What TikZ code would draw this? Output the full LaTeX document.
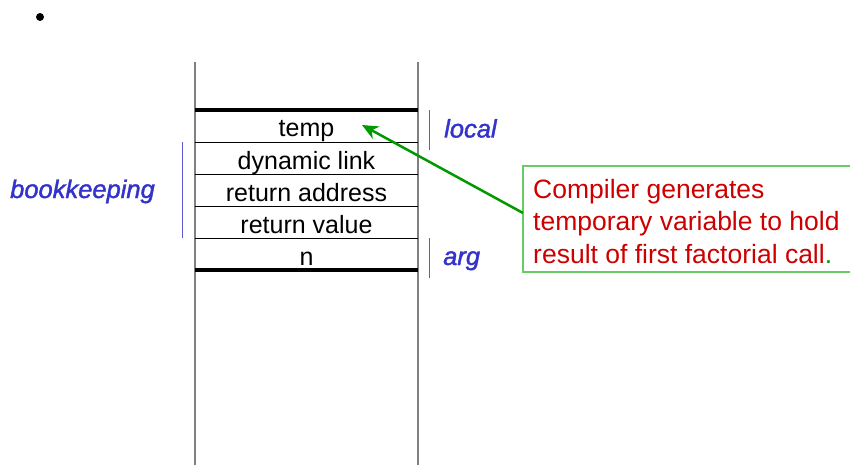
\documentclass[tikz,border=0pt]{standalone}
\usepackage{fontspec}
\setmainfont{Liberation Sans}
\newfontfamily\labelfont{Liberation Sans}[ItalicFeatures={FakeBold=1.6}]
\usetikzlibrary{arrows.meta}
\definecolor{labelblue}{RGB}{51,51,204}
\definecolor{notered}{RGB}{204,0,0}
\definecolor{arrowgreen}{RGB}{0,153,0}
\definecolor{boxgreen}{RGB}{102,204,102}
\begin{document}
\begin{tikzpicture}[x=1pt,y=-1pt,
  cell/.style={anchor=base,font=\fontsize{25}{30}\selectfont,inner sep=0pt},
  side/.style={anchor=base west,font=\labelfont\fontsize{25.5}{30}\selectfont\itshape,text=labelblue,inner sep=0pt},
  bracket/.style={draw=labelblue!80,line width=0.9pt},
  wall/.style={draw=black!50,line width=1.5pt},
  rule/.style={draw=black,line width=0.9pt},
  edge/.style={draw=black,line width=3.5pt},
  note/.style={anchor=north west,align=left,inner sep=0pt,text=notered,
    font=\fontsize{26.5}{32.5}\selectfont},
  pointer/.style={draw=arrowgreen,line width=2.5pt,-{Stealth[length=16pt,width=14pt,inset=5pt]}}]
\useasboundingbox (0,0) rectangle (850,465);
\clip (0,0) rectangle (850,465);

% bullet
\fill (40,17) circle (4);

% stack walls
\coordinate (wlt) at (195,62);
\coordinate (wlb) at (195,470);
\coordinate (wrt) at (418,62);
\coordinate (wrb) at (418,470);
\draw[wall] (wlt) -- (wlb);
\draw[wall] (wrt) -- (wrb);

% frame rows
\foreach \y/\n in {142/r1,174/r2,206/r3,238/r4}{
  \coordinate (\n l) at (195,\y);
  \coordinate (\n r) at (418,\y);
  \draw[rule] (\n l) -- (\n r);
}
\coordinate (tl) at (195,110);
\coordinate (tr) at (418,110);
\coordinate (bl) at (195,270);
\coordinate (br) at (418,270);
\draw[edge] (tl) -- (tr);
\draw[edge] (bl) -- (br);

\node[cell] (temp) at (306.5,137) {temp};
\node[cell] (dyn)  at (306.5,169) {dynamic link};
\node[cell] (ret)  at (306.5,201) {return address};
\node[cell] (val)  at (306.5,233) {return value};
\node[cell] (n)    at (306.5,265) {n};

% side labels
\coordinate (bkt) at (182,142);
\coordinate (bkb) at (182,238);
\draw[bracket] (bkt) -- (bkb);
\node[side] (book) at (10,198) {bookkeeping};

\coordinate (lct) at (429,110);
\coordinate (lcb) at (429,150);
\draw[bracket] (lct) -- (lcb);
\node[side] (local) at (444,137.5) {local};

\coordinate (agt) at (429,238);
\coordinate (agb) at (429,278);
\draw[bracket] (agt) -- (agb);
\node[side] (arg) at (443,265) {arg};

% callout
\draw[boxgreen,line width=1.2pt] (523,166) rectangle (870,272);
\coordinate (boxw) at (523,213);
\node[note] (txt) at (533,179) {Compiler generates\\temporary variable to hold\\result of first factorial call\textcolor{arrowgreen}{.}};
\coordinate (tip) at (362,125);
\draw[pointer] (boxw) -- (tip);
\end{tikzpicture}
\end{document}
